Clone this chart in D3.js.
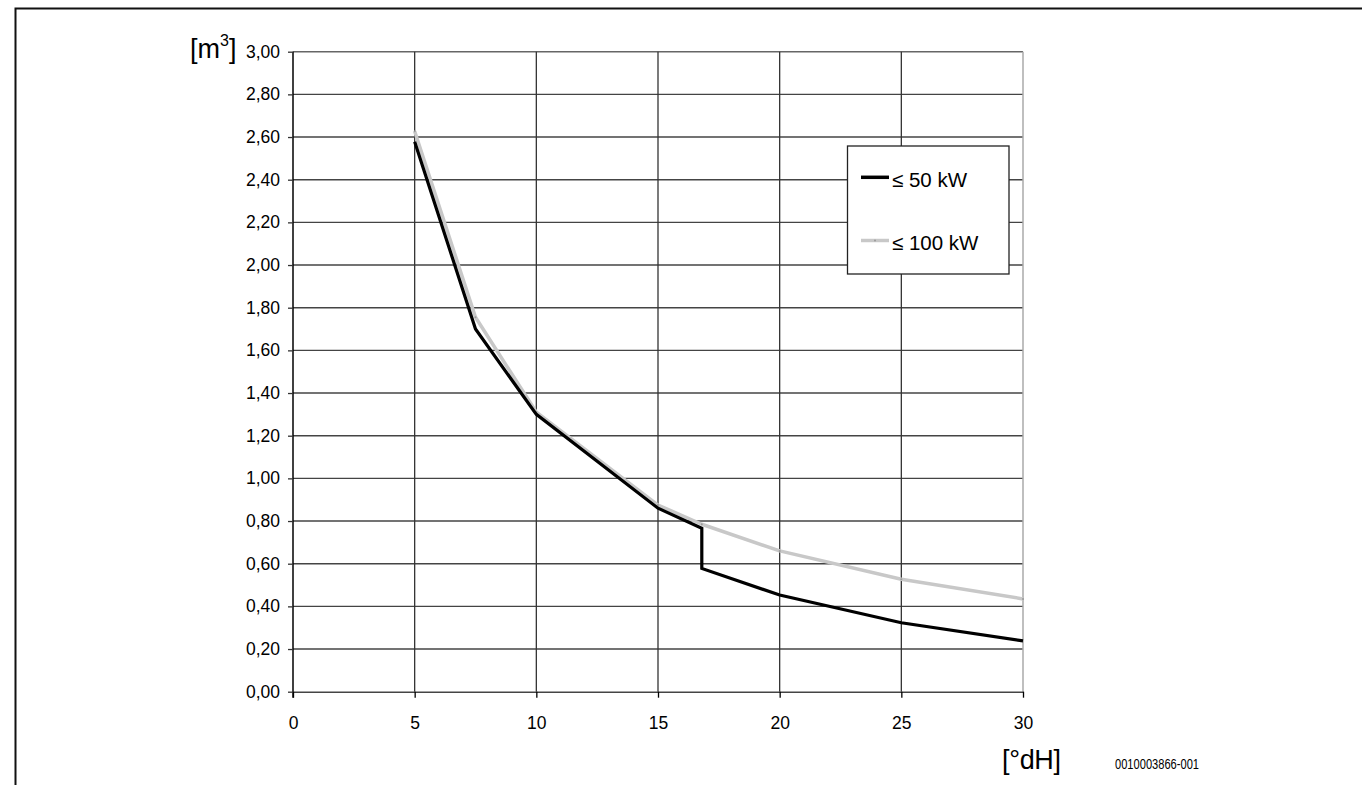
<!DOCTYPE html>
<html>
<head>
<meta charset="utf-8">
<script src="https://cdn.jsdelivr.net/npm/d3@7"></script>
<style>
  html, body { margin: 0; padding: 0; background: #fff; }
  svg { display: block; font-family: "Liberation Sans", Arial, sans-serif; }
</style>
</head>
<body>
<svg id="chart" width="1362" height="785"></svg>
<script>
// Water hardness [°dH] vs. fill volume [m³]
const xTicks = [0, 5, 10, 15, 20, 25, 30];
const yTicks = [0, 0.2, 0.4, 0.6, 0.8, 1.0, 1.2, 1.4, 1.6, 1.8, 2.0, 2.2, 2.4, 2.6, 2.8, 3.0];

const hardness50 = [5, 7.5, 10, 15, 16.8, 16.8, 20, 25, 30];
const volume50   = [2.578, 1.70, 1.30, 0.86, 0.766, 0.578, 0.453, 0.323, 0.238];

const hardness100 = [5, 7.5, 10, 15, 16.8, 20, 25, 30];
const volume100   = [2.627, 1.755, 1.31, 0.875, 0.785, 0.66, 0.527, 0.435];

const seriesNames = ["\u2264 50 kW", "\u2264 100 kW"];

const svg = d3.select("#chart");
const FONT = "'Liberation Sans', Arial, sans-serif";

// outer frame
svg.append("rect")
  .attr("x", 15.5).attr("y", 8.5)
  .attr("width", 1400).attr("height", 820)
  .attr("fill", "none").attr("stroke", "#111").attr("stroke-width", 2);

const plotLeft = 293, plotRight = 1023, plotTop = 51.7, plotBottom = 691.7;

const x = d3.scaleLinear().domain([0, 30]).range([plotLeft, plotRight]);
const y = d3.scaleLinear().domain([0, 3]).range([plotBottom, plotTop]);

const fmt = d => d3.format(".2f")(d).replace(".", ",");

// horizontal grid
svg.append("g")
  .selectAll("line")
  .data(yTicks.filter(d => d > 0))
  .join("line")
  .attr("x1", x(0)).attr("x2", x(30))
  .attr("y1", d => y(d)).attr("y2", d => y(d))
  .attr("stroke", d => d === 3 ? "#666" : "#444")
  .attr("stroke-width", 1.4);

// vertical grid
svg.append("g")
  .selectAll("line")
  .data(xTicks.filter(d => d > 0))
  .join("line")
  .attr("x1", d => x(d)).attr("x2", d => x(d))
  .attr("y1", y(3)).attr("y2", y(0))
  .attr("stroke", d => d === 30 ? "#aaa" : "#333")
  .attr("stroke-width", d => d === 30 ? 1.5 : 1.3);

// y axis
const yAxis = d3.axisLeft(y).tickValues(yTicks).tickFormat(fmt).tickSize(5).tickSizeOuter(0).tickPadding(8);
const gy = svg.append("g").attr("transform", `translate(${plotLeft},0)`).call(yAxis);
gy.select(".domain").attr("stroke", "#000").attr("stroke-width", 1.5)
  .attr("d", `M0,${plotTop}V${plotBottom + 6}`);
gy.selectAll(".tick line").attr("stroke", "#333").attr("stroke-width", 1.3);
gy.selectAll(".tick text").attr("font-size", 17.5).attr("fill", "#000")
  .attr("font-family", FONT);

// x axis
const xAxis = d3.axisBottom(x).tickValues(xTicks).tickFormat(d3.format("d")).tickSize(6).tickSizeOuter(0).tickPadding(19);
const gx = svg.append("g").attr("transform", `translate(0,${plotBottom})`).call(xAxis);
gx.select(".domain").attr("stroke", "#444").attr("stroke-width", 1.5);
gx.selectAll(".tick line").attr("stroke", "#000").attr("stroke-width", 1.3);
gx.selectAll(".tick text").attr("font-size", 17.5).attr("fill", "#000")
  .attr("font-family", FONT);

// series lines
const line = d3.line().x(d => x(d[0])).y(d => y(d[1]));
const pts100 = hardness100.map((h, i) => [h, volume100[i]]);
const pts50 = hardness50.map((h, i) => [h, volume50[i]]);

svg.append("path").datum(pts100)
  .attr("d", line).attr("fill", "none")
  .attr("stroke", "#c8c8c8").attr("stroke-width", 3.5).attr("stroke-linejoin", "round");
svg.append("g").selectAll("circle").data(pts100).join("circle")
  .attr("cx", d => x(d[0])).attr("cy", d => y(d[1])).attr("r", 1)
  .attr("fill", "#999");

svg.append("path").datum(pts50)
  .attr("d", line).attr("fill", "none")
  .attr("stroke", "#000").attr("stroke-width", 3.2).attr("stroke-linejoin", "miter");

// legend
const lg = svg.append("g");
lg.append("rect").attr("x", 847.5).attr("y", 146).attr("width", 161.5).attr("height", 128)
  .attr("fill", "#fff").attr("stroke", "#222").attr("stroke-width", 1.3);
const legendRows = [
  { name: seriesNames[0], color: "#000", w: 3.5, y: 177.3 },
  { name: seriesNames[1], color: "#c8c8c8", w: 3.5, y: 240.5 }
];
legendRows.forEach((r, i) => {
  lg.append("line").attr("x1", 861).attr("x2", 889).attr("y1", r.y).attr("y2", r.y)
    .attr("stroke", r.color).attr("stroke-width", r.w);
  if (i === 1) {
    lg.append("circle").attr("cx", 875).attr("cy", r.y).attr("r", 1).attr("fill", "#999");
  }
  lg.append("text").attr("x", 892).attr("y", r.y + 9.5)
    .attr("font-size", 20.5).attr("fill", "#000").text(r.name);
});

// axis titles
const yt = svg.append("text").attr("x", 190).attr("y", 58).attr("font-size", 27).attr("fill", "#000");
yt.append("tspan").text("[m");
yt.append("tspan").attr("font-size", 16).attr("dy", -12).text("3");
yt.append("tspan").attr("dy", 12).text("]");

svg.append("text").attr("x", 1002).attr("y", 769).attr("font-size", 27).attr("fill", "#000")
  .attr("textLength", 59).text("[°dH]");

svg.append("text").attr("x", 1115).attr("y", 769).attr("font-size", 14).attr("fill", "#000")
  .attr("textLength", 84).attr("lengthAdjust", "spacingAndGlyphs").text("0010003866-001");
</script>
</body>
</html>
